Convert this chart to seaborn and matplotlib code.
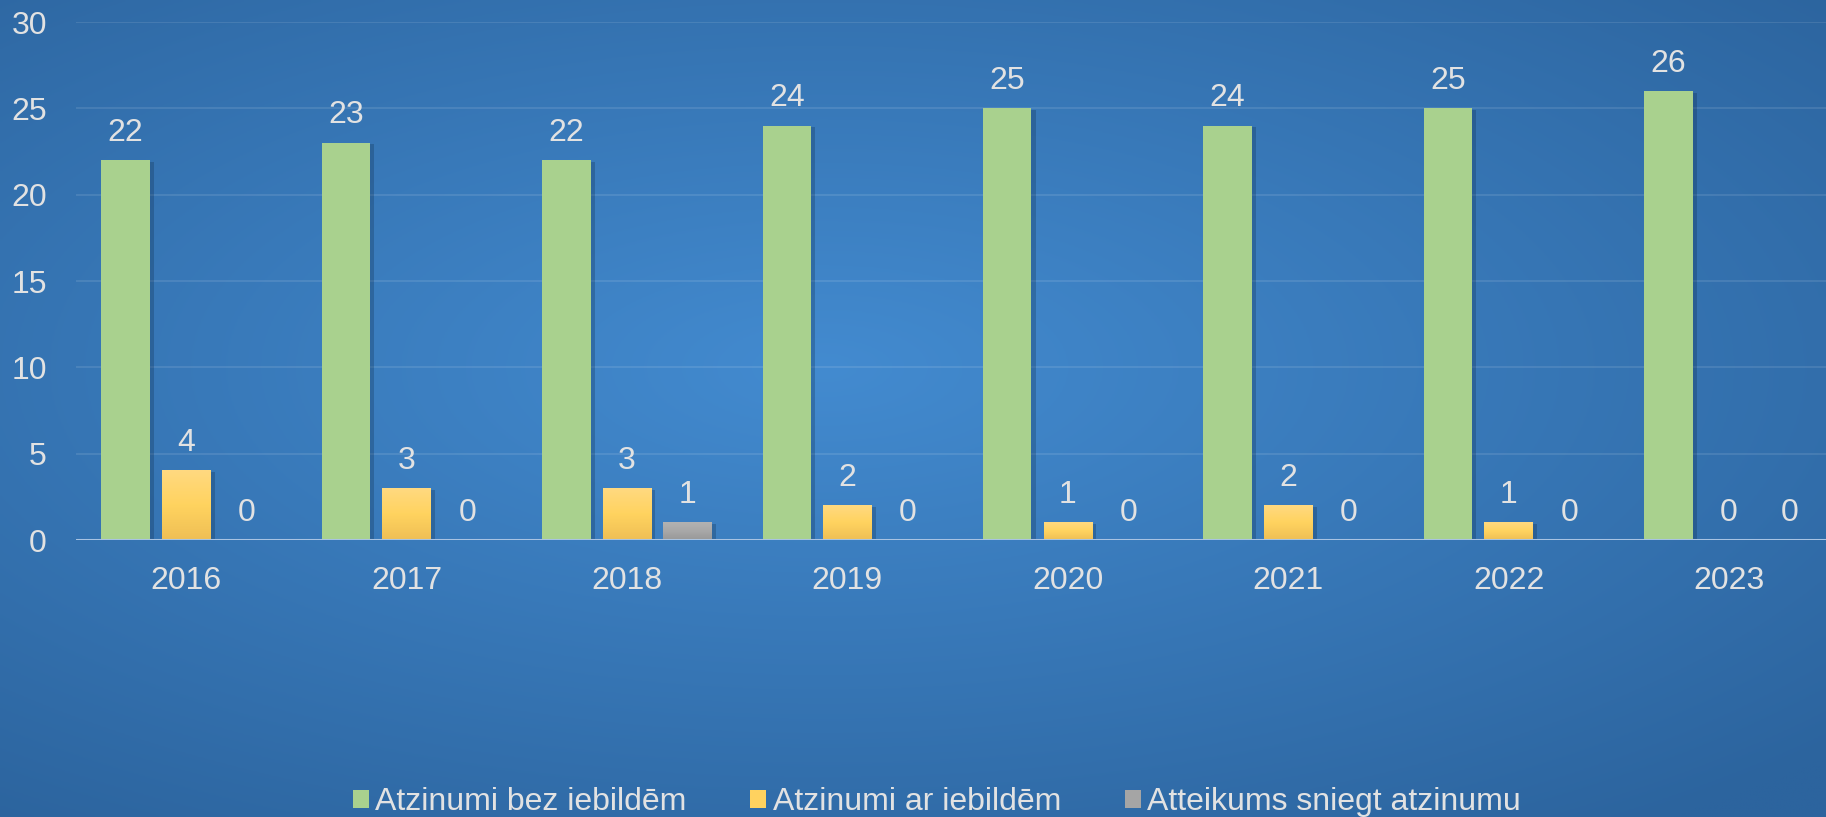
import numpy as np
import pandas as pd
import matplotlib.pyplot as plt
import matplotlib.patheffects as pe
from matplotlib.patches import Patch
import seaborn as sns

years = ['2016', '2017', '2018', '2019', '2020', '2021', '2022', '2023']
bez_iebildem = [22, 23, 22, 24, 25, 24, 25, 26]
ar_iebildem = [4, 3, 3, 2, 1, 2, 1, 0]
atteikums = [0, 0, 1, 0, 0, 0, 0, 0]
series_names = ['Atzinumi bez iebildēm', 'Atzinumi ar iebildēm', 'Atteikums sniegt atzinumu']
colors = ['#A9D18E', '#FFD25F', '#A5A5A5']

df = pd.DataFrame({
    'year': years * 3,
    'value': bez_iebildem + ar_iebildem + atteikums,
    'series': [s for s in series_names for _ in years],
})

sns.set_theme(style='white')
plt.rcParams['font.family'] = ['Liberation Sans', 'DejaVu Sans']
txt = '#E2E2E2'
fs = 23

fig = plt.figure(figsize=(18.26, 8.17), dpi=100)

# radial blue background
bg = fig.add_axes([0, 0, 1, 1], zorder=0)
yy, xx = np.mgrid[0:1:300j, 0:1:600j]
r = np.sqrt(((xx - 0.45) / 0.75) ** 2 + ((yy - 0.45) / 0.7) ** 2)
r = np.clip(r, 0, 1)
c_in = np.array([0x43, 0x8B, 0xD0]) / 255
c_out = np.array([0x2C, 0x64, 0x9E]) / 255
img = c_in[None, None, :] * (1 - r[..., None]) + c_out[None, None, :] * r[..., None]
bg.imshow(img, extent=(0, 1, 0, 1), aspect='auto', origin='upper')
bg.axis('off')

ax = fig.add_axes([0.0416, 0.339, 0.9657, 0.634], zorder=1)
ax.patch.set_alpha(0)
sns.barplot(data=df, x='year', y='value', hue='series', palette=colors,
            width=0.825, gap=0.2, saturation=1, legend=False, ax=ax)

shadow = [pe.SimplePatchShadow(offset=(3, -1), alpha=0.25, shadow_rgbFace='#0A2440'), pe.Normal()]
grads = {1: ('#FFD980', '#FFD35F', '#EFBF55'), 2: ('#B2B2B2', '#A8A8A8', '#989898')}
for i, cont in enumerate(ax.containers):
    for p in cont.patches:
        p.set_edgecolor('none')
        if p.get_height() > 0:
            p.set_path_effects(shadow)
        if i in grads and p.get_height() > 0:
            top, mid, bot = [np.array(plt.matplotlib.colors.to_rgb(c)) for c in grads[i]]
            t = np.linspace(0, 1, 50)[:, None]
            col = np.where(t < 0.5, top + (mid - top) * (t / 0.5), mid + (bot - mid) * ((t - 0.5) / 0.5))
            x0 = p.get_x()
            ax.imshow(col[:, None, :], extent=(x0, x0 + p.get_width(), 0, p.get_height()),
                      aspect='auto', origin='upper', zorder=p.get_zorder() + 0.1)
    ax.bar_label(cont, padding=9, color=txt, fontsize=fs)

ax.set_xlim(-0.5, 7.5)
ax.set_ylim(0, 30)
ax.set_yticks(range(0, 31, 5))
ax.grid(axis='y', color='white', alpha=0.12, lw=1.2)
ax.set_axisbelow(True)
ax.axhline(0, color='#A8C3E2', lw=2.2, zorder=5)
sns.despine(ax=ax, left=True, bottom=True, top=True, right=True)
ax.set_xlabel('')
ax.set_ylabel('')
ax.tick_params(axis='y', colors=txt, labelsize=fs, length=0, pad=21)
ax.tick_params(axis='x', colors=txt, labelsize=fs, length=0, pad=19)

handles = [Patch(facecolor=c, edgecolor='none') for c in colors]
fig.legend(handles, series_names, loc='center', bbox_to_anchor=(0.513, 0.018),
           ncol=3, frameon=False, fontsize=23, labelcolor=txt,
           handlelength=0.5, handleheight=0.5, handletextpad=0.2, columnspacing=2.0)

fig.savefig('out.png', dpi=100)
